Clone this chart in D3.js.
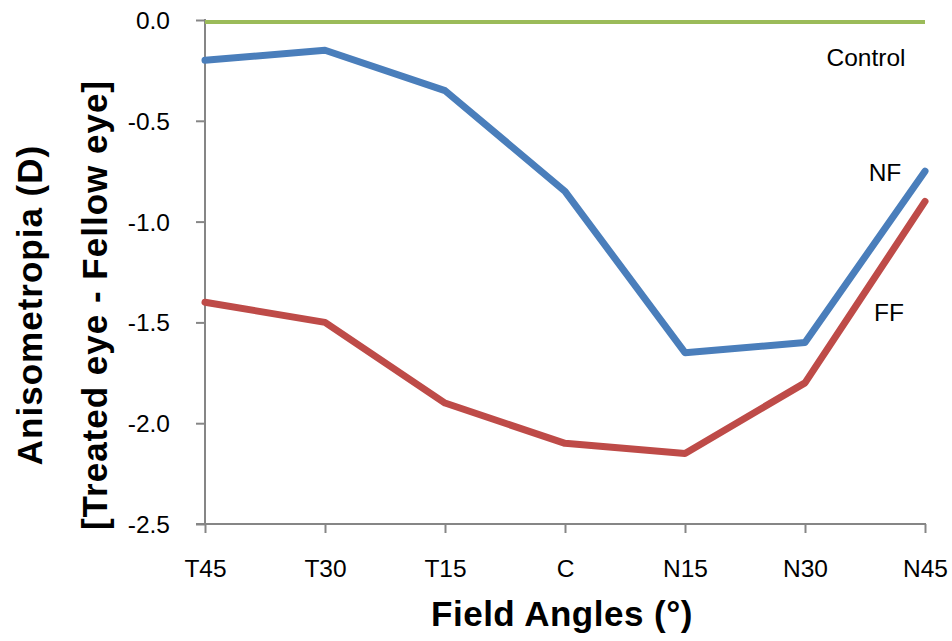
<!DOCTYPE html>
<html>
<head>
<meta charset="utf-8">
<script src="https://cdn.jsdelivr.net/npm/d3@7"></script>
<style>
  body { margin: 0; background: #fff; }
  text { font-family: "Liberation Sans", Arial, sans-serif; fill: #000; }
</style>
</head>
<body>
<svg id="chart" width="952" height="641"></svg>
<script>
// data
var angles = ["T45", "T30", "T15", "C", "N15", "N30", "N45"];
var controlVals = [-0.01, -0.01, -0.01, -0.01, -0.01, -0.01, -0.01];
var nfVals = [-0.2, -0.15, -0.35, -0.85, -1.65, -1.6, -0.75];
var ffVals = [-1.4, -1.5, -1.9, -2.1, -2.15, -1.8, -0.9];
var yTicks = [0, -0.5, -1.0, -1.5, -2.0, -2.5];

var series = [
  { name: "Control", vals: controlVals, color: "#9BBB59", width: 4, cap: "butt", lx: 866, ly: 57 },
  { name: "NF", vals: nfVals, color: "#4A7EBB", width: 7, cap: "round", lx: 885, ly: 172 },
  { name: "FF", vals: ffVals, color: "#BE4B48", width: 7, cap: "round", lx: 889, ly: 312 }
];

var svg = d3.select("#chart");
var pLeft = 205, pRight = 925, pTop = 20, pBottom = 524;

var x = d3.scalePoint().domain(angles).range([pLeft, pRight]);
var y = d3.scaleLinear().domain([-2.5, 0]).range([pBottom, pTop]);

// plain hyphen minus like the original
var fmt = function(d) { return d3.format(".1f")(d).replace("\u2212", "-"); };

// axes
var yAxis = svg.append("g")
  .attr("transform", "translate(" + pLeft + ",0)")
  .call(d3.axisLeft(y).tickValues(yTicks).tickSize(9).tickFormat(fmt));
var xAxis = svg.append("g")
  .attr("transform", "translate(0," + pBottom + ")")
  .call(d3.axisBottom(x).tickSize(9));

[yAxis, xAxis].forEach(function(g) {
  g.attr("font-size", null).attr("font-family", null);
  g.selectAll("path, line").attr("stroke", "#868686").attr("stroke-width", 2);
  g.select(".domain").remove();
  g.selectAll("text").style("font-size", "24.5px").attr("fill", "#000");
});
yAxis.selectAll(".tick text").attr("text-anchor", "end").attr("x", -35).attr("dy", "0.35em");
yAxis.append("line").attr("x1", 0).attr("x2", 0).attr("y1", pTop - 1).attr("y2", pBottom)
  .attr("stroke", "#868686").attr("stroke-width", 2);
xAxis.append("line").attr("x1", pLeft - 9).attr("x2", pRight + 1).attr("y1", 0).attr("y2", 0)
  .attr("stroke", "#868686").attr("stroke-width", 2);
xAxis.selectAll(".tick text").attr("y", 53).attr("dy", 0);

// lines
var line = d3.line()
  .x(function(d, i) { return x(angles[i]); })
  .y(function(d) { return y(d); });

svg.selectAll(".series")
  .data(series)
  .enter()
  .append("path")
    .attr("class", "series")
    .attr("d", function(s) { return line(s.vals); })
    .attr("fill", "none")
    .attr("stroke", function(s) { return s.color; })
    .attr("stroke-width", function(s) { return s.width; })
    .attr("stroke-linejoin", "round")
    .attr("stroke-linecap", function(s) { return s.cap; });

svg.selectAll(".lbl")
  .data(series)
  .enter()
  .append("text")
    .attr("class", "lbl")
    .attr("x", function(s) { return s.lx; })
    .attr("y", function(s) { return s.ly; })
    .attr("dy", "0.35em")
    .attr("text-anchor", "middle")
    .style("font-size", "24.5px")
    .text(function(s) { return s.name; });

// titles
svg.append("text")
  .attr("x", 562).attr("y", 626)
  .attr("text-anchor", "middle")
  .style("font-size", "35px").style("font-weight", "bold")
  .style("letter-spacing", "0.5px")
  .text("Field Angles (°)");

var yt = svg.append("text")
  .attr("transform", "translate(0,305) rotate(-90)")
  .attr("text-anchor", "middle")
  .style("font-size", "35px").style("font-weight", "bold")
  .style("letter-spacing", "1px");
yt.append("tspan").attr("x", 0).attr("y", 42).text("Anisometropia (D)");
yt.append("tspan").attr("x", 0).attr("y", 107).text("[Treated eye - Fellow eye]");
</script>
</body>
</html>
